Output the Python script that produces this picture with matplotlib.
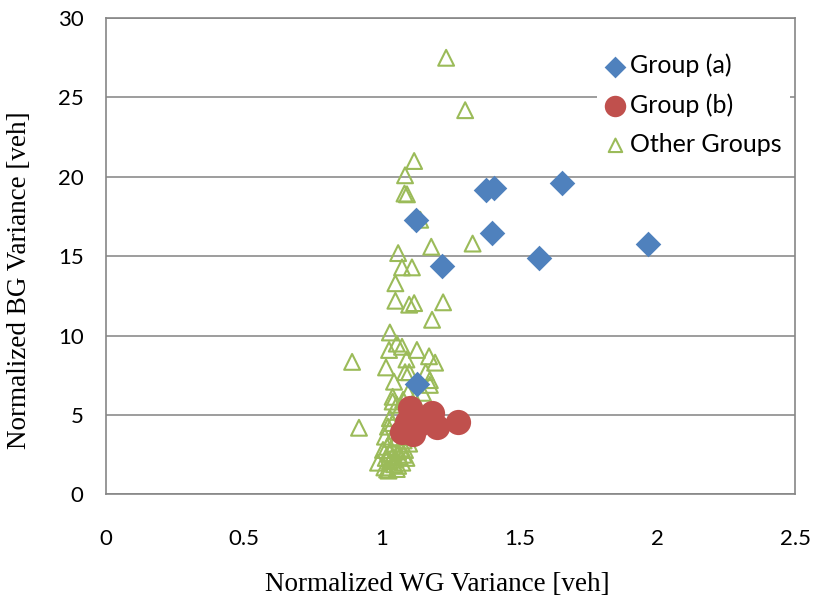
import matplotlib

matplotlib.use("Agg")
import matplotlib.pyplot as plt  # noqa: E402

# --- data (x = WG variance, y = BG variance) ---
group_a_x = [1.125, 1.379, 1.408, 1.655, 1.400, 1.220, 1.570, 1.967, 1.130]
group_a_y = [17.3, 19.2, 19.3, 19.6, 16.45, 14.4, 14.9, 15.8, 6.97]

group_b_x = [1.103, 1.183, 1.277, 1.201, 1.132, 1.092, 1.074, 1.114]
group_b_y = [5.46, 5.15, 4.58, 4.27, 4.39, 4.58, 3.95, 3.83]

other_x = [
    1.234, 1.303, 1.118, 1.085, 1.083, 1.092, 1.140, 1.180, 1.330, 1.060,
    1.074, 1.110, 1.050, 1.050, 1.100, 1.118, 1.223, 1.183, 1.030, 1.055,
    1.074, 1.027, 1.128, 0.893, 1.172, 1.194, 1.090, 1.016, 1.085, 1.100,
    1.160, 1.045, 1.175, 1.150, 1.175, 1.040, 1.040, 1.055, 1.078, 1.096,
    1.120, 1.060, 1.023, 1.012, 1.005, 0.987, 1.020, 0.918,
    1.030, 1.040, 1.050, 1.035, 1.045, 1.060, 1.020, 1.030, 1.040, 1.050,
    1.060, 1.070, 1.080, 1.090, 1.075, 1.060, 1.045, 1.030, 1.015, 1.010,
    1.025, 1.055, 1.065, 1.085, 1.100, 1.070, 1.080, 1.090,
]
other_y = [
    27.5, 24.2, 21.0, 20.1, 18.95, 18.9, 17.3, 15.6, 15.8, 15.2,
    14.3, 14.3, 13.3, 12.2, 11.95, 12.05, 12.1, 11.0, 10.2, 9.5,
    9.3, 9.1, 9.1, 8.35, 8.7, 8.3, 8.5, 8.0, 7.7, 7.7,
    7.7, 7.1, 7.2, 6.4, 6.9, 6.15, 5.85, 5.65, 5.96, 6.4,
    6.0, 5.2, 4.27, 3.64, 2.8, 2.0, 1.57, 4.2,
    4.8, 4.5, 4.0, 3.5, 3.2, 3.6, 3.0, 2.6, 2.4, 2.2,
    2.7, 2.9, 2.5, 2.3, 2.0, 1.8, 1.9, 2.1, 2.3, 1.7,
    1.5, 1.6, 2.4, 2.8, 3.2, 4.4, 3.4, 4.8,
]

x_ticks = [0, 0.5, 1, 1.5, 2, 2.5]
x_tick_labels = ["0", "0.5", "1", "1.5", "2", "2.5"]
y_ticks = [0, 5, 10, 15, 20, 25, 30]

BLUE = "#4F81BD"
RED = "#C0504D"
GREEN = "#9BBB59"
GRID = "#8C8C8C"

fig = plt.figure(figsize=(8.14, 6.03), dpi=100)
ax = fig.add_axes([0.130, 0.180, 0.847, 0.790])

h_o = ax.scatter(other_x, other_y, marker="^", s=130, facecolors="none",
                 edgecolors=GREEN, linewidths=1.5, zorder=2, label="Other Groups")
h_b = ax.scatter(group_b_x, group_b_y, marker="o", s=330, color=RED,
                 linewidths=0, zorder=3, label="Group (b)")
h_a = ax.scatter(group_a_x, group_a_y, marker="D", s=170, color=BLUE,
                 linewidths=0, zorder=4, label="Group (a)")

ax.set_xlim(0, 2.5)
ax.set_ylim(0, 30)
ax.set_xticks(x_ticks)
ax.set_xticklabels(x_tick_labels)
ax.set_yticks(y_ticks)
ax.tick_params(length=0, labelsize=16)
ax.tick_params(axis="x", pad=25)
ax.tick_params(axis="y", pad=16)
for lab in ax.get_xticklabels() + ax.get_yticklabels():
    lab.set_family("Lato")

ax.yaxis.grid(True, color=GRID, lw=1.2)
ax.set_axisbelow(True)
for sp in ax.spines.values():
    sp.set_color("#868686")
    sp.set_linewidth(1.2)

ax.set_xlabel("Normalized WG Variance [veh]", family="Liberation Serif",
              fontsize=19.5)
ax.set_ylabel("Normalized BG Variance [veh]", family="Liberation Serif",
              fontsize=19.5)
ax.xaxis.set_label_coords(0.481, -0.163)
ax.yaxis.set_label_coords(-0.107, 0.45)

leg = ax.legend([h_a, h_b, h_o], ["Group (a)", "Group (b)", "Other Groups"],
                loc="upper left", bbox_to_anchor=(0.712, 0.941),
                frameon=True, fancybox=False, edgecolor="none",
                framealpha=1.0, prop={"family": "Lato", "size": 18},
                markerscale=0.85, handletextpad=0.15, labelspacing=0.64,
                borderpad=0.3, handlelength=0.9, borderaxespad=0)
leg.set_zorder(5)

fig.savefig("out.png", dpi=100)
plt.close(fig)
